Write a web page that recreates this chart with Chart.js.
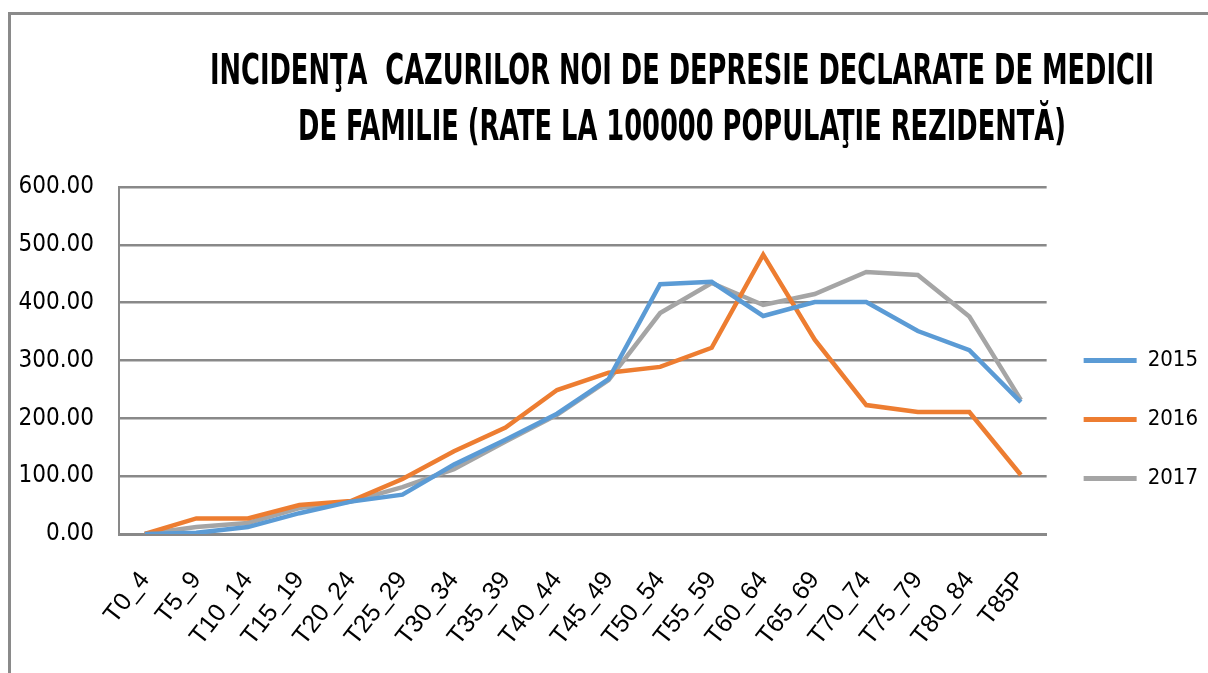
<!DOCTYPE html>
<html>
<head>
<meta charset="utf-8">
<script src="https://cdn.jsdelivr.net/npm/chart.js@4.4.1/dist/chart.umd.min.js"></script>
<style>
  html, body { margin: 0; padding: 0; background: #fff; overflow: hidden; }
  #wrap { position: relative; width: 1208px; height: 673px; overflow: hidden; }
  #frame { position: absolute; left: 8px; top: 12px; width: 1300px; height: 800px;
           border-top: 3px solid #8a8a8a; border-left: 3px solid #8a8a8a; box-sizing: border-box; }
  #c { position: absolute; left: 0; top: 0; }
</style>
</head>
<body>
<div id="wrap">
  <div id="frame"></div>
  <canvas id="c" width="1208" height="673"></canvas>
</div>
<script>
const categories = ["T0_4","T5_9","T10_14","T15_19","T20_24","T25_29","T30_34","T35_39","T40_44","T45_49","T50_54","T55_59","T60_64","T65_69","T70_74","T75_79","T80_84","T85P"];
const values2015 = [0, 2, 12, 36, 56, 68, 120, 163, 208, 268, 432, 436, 377, 401, 401, 351, 318, 228];
const values2016 = [0, 27, 27, 50, 57, 95, 143, 184, 249, 279, 289, 322, 483, 336, 223, 211, 211, 102];
const values2017 = [0, 12, 19, 45, 56, 81, 112, 160, 206, 266, 382, 434, 396, 415, 453, 448, 376, 232];
const seriesNames = ["2015", "2016", "2017"];
const titleLines = ["INCIDENŢA  CAZURILOR NOI DE DEPRESIE DECLARATE DE MEDICII", "DE FAMILIE (RATE LA 100000 POPULAŢIE REZIDENTĂ)"];

const NARROW = '"Liberation Sans Narrow", "DejaVu Sans Condensed", "Liberation Sans", sans-serif';
const GRID = '#898989';

const titlePlugin = {
  id: 'customTitle',
  afterDraw(chart) {
    const ctx = chart.ctx;
    ctx.save();
    ctx.font = 'bold 42px ' + NARROW;
    ctx.fillStyle = '#000';
    ctx.textAlign = 'center';
    ctx.textBaseline = 'middle';
    const w = ctx.measureText(titleLines[0]).width;
    const sx = 944 / w;
    const cx = 682;
    const ys = [73, 129];
    titleLines.forEach((t, i) => {
      ctx.save();
      ctx.translate(cx, ys[i]);
      ctx.scale(sx, 1);
      ctx.fillText(t, 0, 0);
      ctx.restore();
    });
    ctx.restore();
  }
};

const colors = ['#5B9BD5', '#ED7D31', '#A5A5A5'];
const datasets = [values2015, values2016, values2017].map((vals, i) => ({
  label: seriesNames[i],
  data: vals,
  borderColor: colors[i],
  backgroundColor: colors[i],
  borderWidth: 4.5,
  pointRadius: 0,
  pointHoverRadius: 0,
  tension: 0,
  fill: false
}));

new Chart(document.getElementById('c'), {
  type: 'line',
  data: { labels: categories, datasets },
  options: {
    responsive: false,
    animation: false,
    devicePixelRatio: 1,
    layout: { padding: { top: 187, right: 0, bottom: 21, left: 0 } },
    plugins: {
      title: { display: false },
      tooltip: { enabled: false },
      legend: {
        position: 'right',
        align: 'center',
        labels: {
          font: { family: NARROW, size: 22 },
          color: '#000',
          boxWidth: 53,
          boxHeight: 5,
          padding: 37,
          generateLabels(chart) {
            const items = Chart.defaults.plugins.legend.labels.generateLabels(chart);
            return items.map(it => Object.assign(it, { lineWidth: 0, fillStyle: it.strokeStyle }));
          }
        }
      }
    },
    scales: {
      x: {
        offset: true,
        grid: { display: false, drawTicks: false },
        border: { display: true, color: GRID, width: 3 },
        ticks: {
          autoSkip: false,
          minRotation: 52,
          maxRotation: 52,
          padding: 32,
          color: '#000',
          font: { family: '"Liberation Sans", sans-serif', size: 25 }
        },
        afterFit(scale) { scale.height = 118; }
      },
      y: {
        min: 0,
        max: 600,
        grid: { color: GRID, lineWidth: 2.5, drawTicks: false },
        border: { display: true, color: GRID, width: 2 },
        ticks: {
          stepSize: 100,
          padding: 25,
          color: '#000',
          font: { family: NARROW, size: 24 },
          callback: v => Number(v).toFixed(2)
        },
        afterFit(scale) { scale.width = 119; }
      }
    }
  },
  plugins: [titlePlugin]
});
</script>
</body>
</html>
